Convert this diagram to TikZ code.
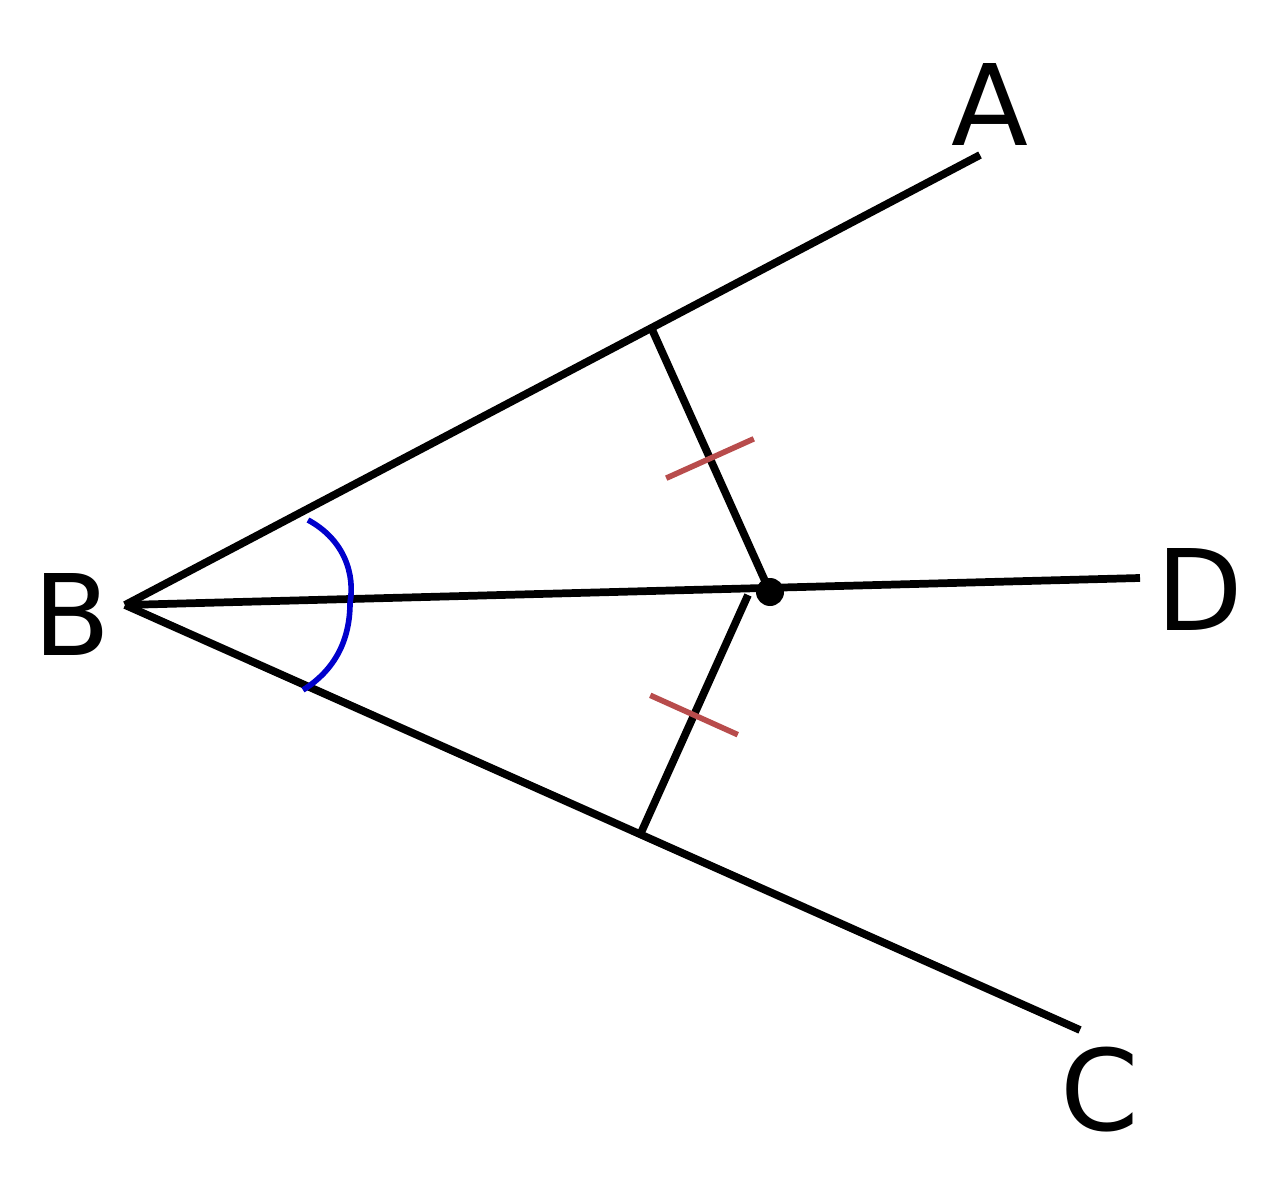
\documentclass[tikz,border=0pt]{standalone}
\usepackage{fontspec}
\setmainfont{DejaVu Sans}
\usetikzlibrary{calc}

\begin{document}
\begin{tikzpicture}[line width=2.2pt,
  lbl/.style={font=\fontsize{32}{32}\selectfont},
  tick/.style={color=red!60!black!70,line width=1.6pt},
  angmark/.style={color=blue!80!black,line width=1.6pt}]
\useasboundingbox (0,0) rectangle (12.76,12);

\coordinate (B) at (1.25,5.95);
\coordinate (A) at (9.80,10.45);
\coordinate (C) at (10.80,1.70);
\coordinate (D) at (11.40,6.22);
\coordinate (P) at (7.70,6.08);

\coordinate (H) at (6.50,8.75);
\coordinate (K) at (6.40,3.65);
\coordinate (E) at (7.48,6.05);

\draw (B)--(A);
\draw (B)--(C);
\draw (B)--(D);
\draw (H)--(P);
\draw (K)--(E);

\fill (P) circle (0.14);

% equal marks
\draw[tick] ($(H)!0.5!(P)!0.48cm!90:(P)$)--($(H)!0.5!(P)!0.48cm!-90:(P)$);
\draw[tick] ($(K)!0.5!(E)!0.48cm!90:(E)$)--($(K)!0.5!(E)!0.48cm!-90:(E)$);

% angle marks
\draw[angmark] (3.08,6.80) .. controls (3.45,6.60) and (3.55,6.25) .. (3.50,5.97);
\draw[angmark] (3.50,5.97) .. controls (3.50,5.60) and (3.35,5.30) .. (3.03,5.10);

\node[lbl] (a) at (9.90,10.95) {A};
\node[lbl] (b) at (0.72,5.85) {B};
\node[lbl] (c) at (11.00,1.10) {C};
\node[lbl] (d) at (12.00,6.10) {D};

\end{tikzpicture}
\end{document}
